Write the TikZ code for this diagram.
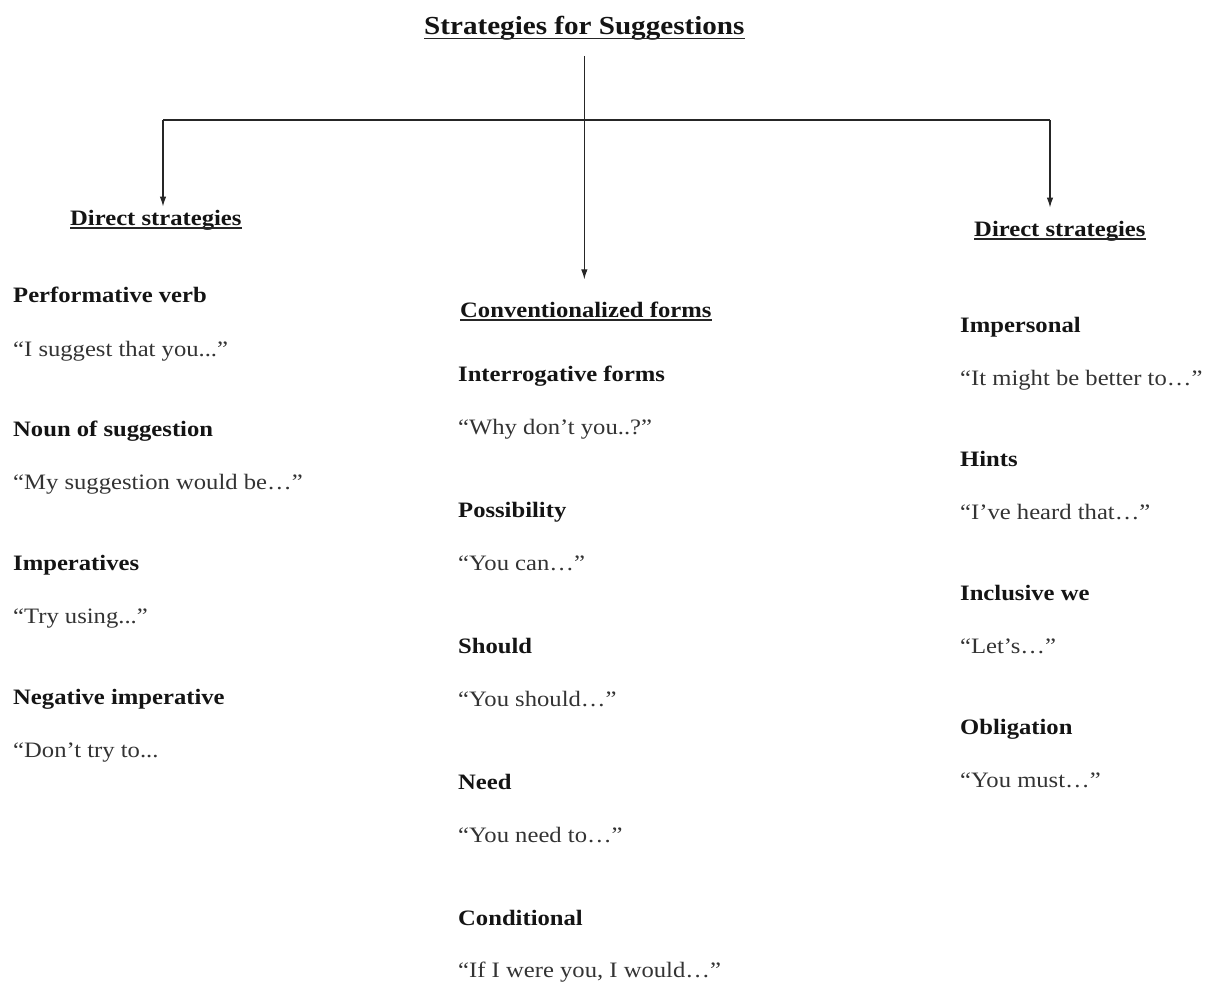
\documentclass[tikz,border=0pt]{standalone}
\usepackage{fontspec}
\setmainfont[FakeStretch=1.12]{Liberation Serif}
\usetikzlibrary{arrows.meta}
\begin{document}
\begin{tikzpicture}[x=1pt,y=-1pt,
  head/.style={anchor=base west, inner sep=0pt, font=\fontsize{22}{26}\selectfont\bfseries, text=black!92},
  quote/.style={anchor=base west, inner sep=0pt, font=\fontsize{22}{26}\selectfont, text=black!80},
  titlestyle/.style={anchor=base west, inner sep=0pt, font=\fontsize{26}{30}\selectfont\bfseries, text=black!92},
  uline/.style={line width=1.5pt, draw=black!85},
  conn/.style={line width=1.1pt, draw=black!85},
  arr/.style={conn, -{Latex[length=10pt,width=6.5pt]}}]
\useasboundingbox (0,0) rectangle (1208,982);
% title
\node[titlestyle] (title) at (424,35) {Strategies for Suggestions};
\draw[uline] ([yshift=-3.5pt]title.base west) -- ([yshift=-3.5pt]title.base east);
% column headings
\node[head] (dl) at (70,225) {Direct strategies};
\draw[uline] ([yshift=-3pt]dl.base west) -- ([yshift=-3pt]dl.base east);
\node[head] (conv) at (460,317) {Conventionalized forms};
\draw[uline] ([yshift=-3pt]conv.base west) -- ([yshift=-3pt]conv.base east);
\node[head] (dr) at (974,236) {Direct strategies};
\draw[uline] ([yshift=-3pt]dr.base west) -- ([yshift=-3pt]dr.base east);
% connectors
\coordinate (lj) at (163,120);
\coordinate (rj) at (1050,120);
\draw[conn] (lj) -- (rj);
\draw[arr, shorten <=15pt, shorten >=22pt] (title.south) -- (title.south |- conv.north);
\draw[arr, shorten >=3pt] (lj) -- (lj |- dl.north);
\draw[arr, shorten >=13pt] (rj) -- (rj |- dr.north);
% left column
\node[head]  (pv)  at (13,302) {Performative verb};
\node[quote] (pvq) at (13,356) {“I suggest that you...”};
\node[head]  (ns)  at (13,436) {Noun of suggestion};
\node[quote] (nsq) at (13,489) {“My suggestion would be…”};
\node[head]  (im)  at (13,570) {Imperatives};
\node[quote] (imq) at (13,623) {“Try using...”};
\node[head]  (ni)  at (13,704) {Negative imperative};
\node[quote] (niq) at (13,757) {“Don’t try to...};
% centre column
\node[head]  (iq)  at (458,381) {Interrogative forms};
\node[quote] (iqq) at (458,434) {“Why don’t you..?”};
\node[head]  (po)  at (458,517) {Possibility};
\node[quote] (poq) at (458,570) {“You can…”};
\node[head]  (sh)  at (458,653) {Should};
\node[quote] (shq) at (458,706) {“You should…”};
\node[head]  (ne)  at (458,789) {Need};
\node[quote] (neq) at (458,842) {“You need to…”};
\node[head]  (co)  at (458,925) {Conditional};
\node[quote] (coq) at (458,977) {“If I were you, I would…”};
% right column
\node[head]  (ip)  at (960,332) {Impersonal};
\node[quote] (ipq) at (960,385) {“It might be better to…”};
\node[head]  (hi)  at (960,466) {Hints};
\node[quote] (hiq) at (960,519) {“I’ve heard that…”};
\node[head]  (iw)  at (960,600) {Inclusive we};
\node[quote] (iwq) at (960,653) {“Let’s…”};
\node[head]  (ob)  at (960,734) {Obligation};
\node[quote] (obq) at (960,787) {“You must…”};
\end{tikzpicture}
\end{document}
